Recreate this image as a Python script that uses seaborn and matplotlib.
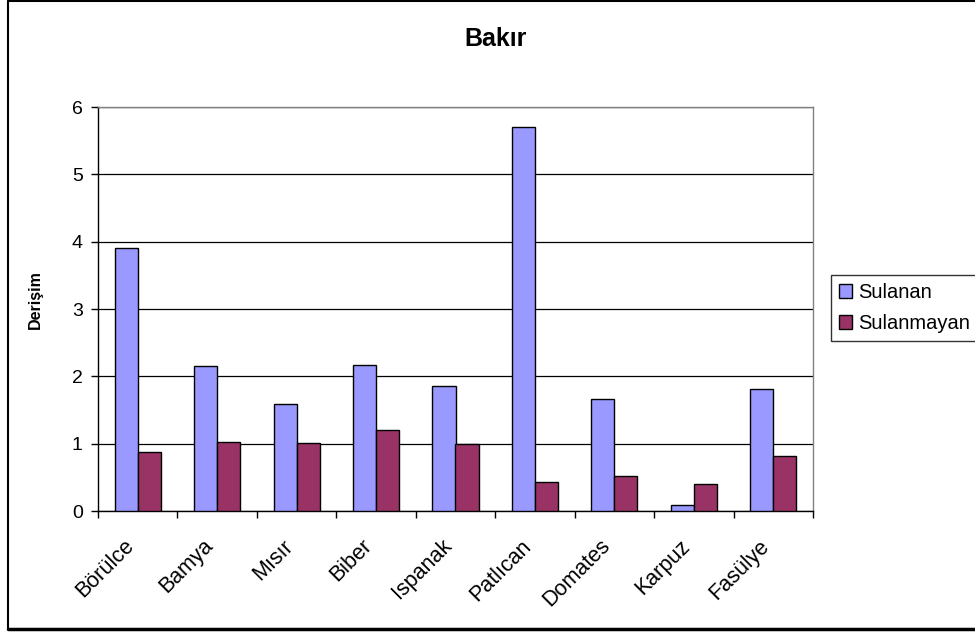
import matplotlib
matplotlib.use("Agg")
import matplotlib.pyplot as plt
from matplotlib.lines import Line2D
from matplotlib.patches import Patch
from matplotlib.transforms import ScaledTranslation
import seaborn as sns
import pandas as pd

categories = ["Börülce", "Bamya", "Mısır", "Biber", "Ispanak",
              "Patlıcan", "Domates", "Karpuz", "Fasülye"]
sulanan = [3.91, 2.15, 1.59, 2.17, 1.86, 5.70, 1.66, 0.085, 1.81]
sulanmayan = [0.87, 1.03, 1.01, 1.20, 0.99, 0.43, 0.52, 0.40, 0.81]
series_names = ["Sulanan", "Sulanmayan"]
y_ticks = [0, 1, 2, 3, 4, 5, 6]

df = pd.DataFrame({
    "Kategori": categories * 2,
    "Derişim": sulanan + sulanmayan,
    "Seri": [series_names[0]] * len(categories) + [series_names[1]] * len(categories),
})

sns.set_theme(style="white")
plt.rcParams["font.family"] = ["Liberation Sans", "DejaVu Sans"]
plt.rcParams["text.color"] = "black"
plt.rcParams["xtick.color"] = "black"
plt.rcParams["ytick.color"] = "black"
plt.rcParams["axes.labelcolor"] = "black"

colors = {"Sulanan": "#9999FF", "Sulanmayan": "#993366"}

fig = plt.figure(figsize=(9.75, 6.32), dpi=100)
ax = fig.add_axes([98 / 975, 1 - 511 / 632, (813 - 98) / 975, (511 - 107) / 632])

sns.barplot(data=df, x="Kategori", y="Derişim", hue="Seri", palette=colors,
            width=0.58, gap=0, edgecolor="black", linewidth=1.0,
            saturation=1, ax=ax, legend=False, zorder=3)

ax.set_ylim(0, 6)
ax.set_xlim(-0.5, len(categories) - 0.5)
ax.set_yticks(y_ticks)
ax.set_yticklabels([str(t) for t in y_ticks], fontsize=14)
ax.yaxis.grid(True, color="black", linewidth=0.9, zorder=0)
ax.set_axisbelow(True)

# category ticks sit on the boundaries between groups
ax.set_xticks([i + 0.5 for i in range(-1, len(categories))], minor=True)
ax.set_xticks(range(len(categories)))
ax.set_xticklabels(categories, rotation=45, ha="right", va="center",
                   rotation_mode="anchor", fontsize=15.5)
ax.tick_params(axis="x", which="major", length=0, pad=23)
ax.tick_params(axis="x", which="minor", length=5, width=1, color="black",
               direction="out", bottom=True)
ax.tick_params(axis="y", length=5, width=1, color="black", direction="out",
               left=True, pad=6)
shift = ScaledTranslation(-7 / 100, 0, fig.dpi_scale_trans)
for lbl in ax.get_xticklabels():
    lbl.set_transform(lbl.get_transform() + shift)

for side in ["left", "bottom"]:
    ax.spines[side].set_color("black")
    ax.spines[side].set_linewidth(1.0)
for side in ["top", "right"]:
    ax.spines[side].set_color("#808080")
    ax.spines[side].set_linewidth(1.0)

ax.set_xlabel("")
ax.set_ylabel("Derişim", fontsize=11.5, fontweight="bold")
ax.yaxis.set_label_coords((43 - 98) / 715, (511 - 300) / 404)
fig.text(496 / 975, 1 - 39 / 632, "Bakır", ha="center", va="center",
         fontsize=18, fontweight="bold")

handles = [Patch(facecolor=colors[n], edgecolor="black", linewidth=1.0, label=n)
           for n in series_names]
leg = fig.legend(handles=handles, loc="upper left",
                 bbox_to_anchor=(831 / 975, 1 - 275 / 632),
                 frameon=True, fancybox=False, fontsize=14.5,
                 handlelength=0.65, handleheight=0.65, handletextpad=0.3,
                 borderpad=0.4, labelspacing=0.6, borderaxespad=0)
leg.get_frame().set_edgecolor("black")
leg.get_frame().set_linewidth(1.0)

# chart-area frame
fig.add_artist(Line2D([8 / 975, 8 / 975], [3 / 632, 631 / 632],
                      transform=fig.transFigure, color="black", linewidth=1.5))
fig.add_artist(Line2D([8 / 975, 1.0], [631 / 632, 631 / 632],
                      transform=fig.transFigure, color="black", linewidth=1.5))
fig.add_artist(Line2D([8 / 975, 1.0], [3 / 632, 3 / 632],
                      transform=fig.transFigure, color="black", linewidth=2.5))

fig.savefig("out.png", dpi=100, facecolor="white")
